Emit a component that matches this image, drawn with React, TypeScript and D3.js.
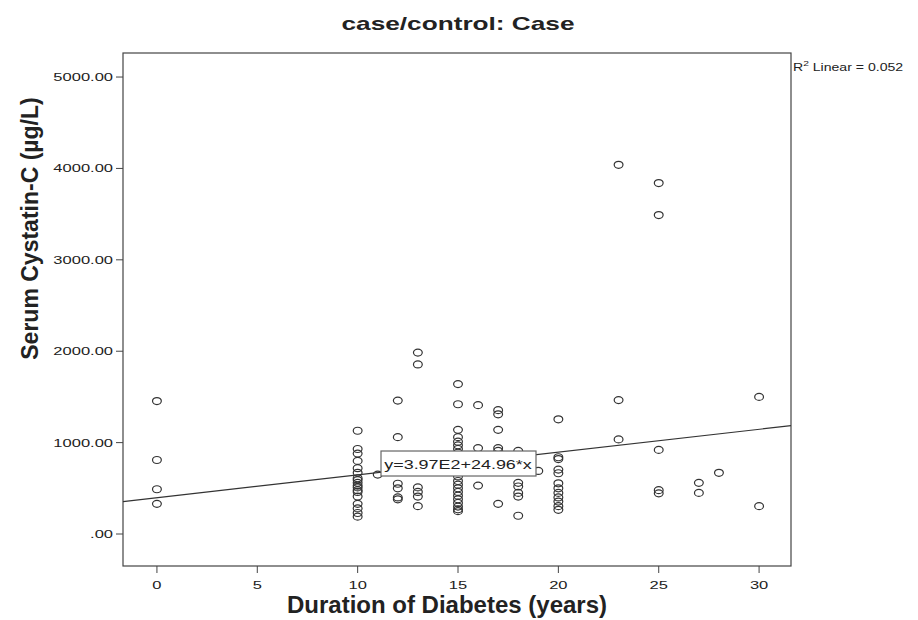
import React from "react";
import * as d3 from "d3";

// duration of diabetes (years) and the serum cystatin-C readings at each duration
const durations = [0, 10, 11, 12, 13, 15, 16, 17, 18, 19, 20, 23, 25, 27, 28, 30];
const cystatin = [
  [1455, 810, 490, 330],
  [1130, 930, 880, 800, 720, 670, 610, 590, 560, 530, 510, 480, 460, 410, 330, 280, 230, 190],
  [650],
  [1460, 1060, 550, 500, 400, 380],
  [1985, 1855, 510, 460, 410, 305],
  [1640, 1420, 1140, 1060, 1010, 970, 930, 890, 840, 780, 700, 630, 580, 540, 500, 460, 420, 380, 340, 300, 270, 250],
  [1410, 940, 530],
  [1355, 1310, 1140, 940, 910, 330],
  [910, 560, 520, 450, 410, 200],
  [690],
  [1255, 840, 820, 705, 665, 555, 500, 450, 400, 355, 305, 265],
  [4040, 1465, 1035],
  [3840, 3490, 920, 480, 445],
  [560, 450],
  [670],
  [1500, 305],
];

const xTicks = [0, 5, 10, 15, 20, 25, 30];
const yTicks = [0, 1000, 2000, 3000, 4000, 5000];

// fit line from the chart
const intercept = 397;
const slope = 24.96;
const rSquared = "0.052";

const W = 918;
const H = 620;
const frame = { left: 123, right: 791, top: 53, bottom: 566 };
const font = "'Liberation Sans', Arial, sans-serif";
const ink = "#222";

const yLabel = (d: number) => (d === 0 ? ".00" : d.toFixed(2));

// the original output renders its text stretched sideways
const WideText = ({ x, y, size, sx = 1.38, anchor = "start", weight = "normal", children }: any) => (
  <text
    transform={`translate(${x},${y}) scale(${sx},1)`}
    fontSize={size}
    fontWeight={weight}
    textAnchor={anchor}
    fontFamily={font}
    fill={ink}
  >
    {children}
  </text>
);

export default function App() {
  const x = d3.scaleLinear().domain([-1.69, 31.59]).range([frame.left, frame.right]);
  const y = d3.scaleLinear().domain([-350, 5263]).range([frame.bottom, frame.top]);

  const points = durations.flatMap((d, i) => cystatin[i].map((v) => ({ d, v })));
  const [x0, x1] = x.domain();
  const fit = d3.line<number>()
    .x((d) => x(d))
    .y((d) => y(intercept + slope * d));

  const eqX = x(15);
  const eqY = y(intercept + slope * 15);

  return (
    <svg
      width={W}
      height={H}
      style={{ position: "absolute", left: 0, top: 0, background: "#fff" }}
    >
      <rect width={W} height={H} fill="#fff" />

      {/* title */}
      <WideText x={458} y={30} size={19} anchor="middle" weight="bold">
        case/control: Case
      </WideText>

      {/* frame */}
      <rect
        x={frame.left}
        y={frame.top}
        width={frame.right - frame.left}
        height={frame.bottom - frame.top}
        fill="none"
        stroke="#444"
        strokeWidth={1.2}
      />

      {/* y axis */}
      {yTicks.map((t) => (
        <g key={t}>
          <line x1={frame.left - 7} x2={frame.left} y1={y(t)} y2={y(t)} stroke="#444" />
          <WideText x={frame.left - 10} y={y(t) + 4} size={11} sx={1.5} anchor="end">
            {yLabel(t)}
          </WideText>
        </g>
      ))}

      {/* x axis */}
      {xTicks.map((t) => (
        <g key={t}>
          <line x1={x(t)} x2={x(t)} y1={frame.bottom} y2={frame.bottom + 7} stroke="#444" />
          <WideText x={x(t)} y={frame.bottom + 23} size={11} sx={1.5} anchor="middle">
            {t}
          </WideText>
        </g>
      ))}

      <text
        x={447}
        y={613}
        textAnchor="middle"
        fontSize={24}
        fontWeight="bold"
        fontFamily={font}
        fill={ink}
      >
        Duration of Diabetes (years)
      </text>
      <text
        transform={`translate(38,${(frame.top + frame.bottom) / 2 - 81}) rotate(-90)`}
        textAnchor="middle"
        fontSize={23}
        fontWeight="bold"
        fontFamily={font}
        fill={ink}
      >
        Serum Cystatin-C (µg/L)
      </text>

      {/* points */}
      {points.map((p, i) => (
        <ellipse
          key={i}
          cx={x(p.d)}
          cy={y(p.v)}
          rx={4.4}
          ry={3.5}
          fill="none"
          stroke="#333"
          strokeWidth={1.2}
        />
      ))}

      {/* fit line */}
      <path d={fit([x0, x1]) || ""} fill="none" stroke="#333" strokeWidth={1.2} />

      {/* equation label */}
      <rect
        x={eqX - 77}
        y={eqY - 12.5}
        width={155}
        height={25}
        fill="#fff"
        stroke="#666"
        strokeWidth={1.2}
      />
      <WideText x={eqX} y={eqY + 5} size={13} anchor="middle">
        y=3.97E2+24.96*x
      </WideText>

      {/* R squared */}
      <text
        transform={`translate(${frame.right + 2},71) scale(1.28,1)`}
        fontSize={11}
        fontFamily={font}
        fill={ink}
      >
        R<tspan fontSize={8} dy={-5}>2</tspan>
        <tspan dy={5}> Linear = {rSquared}</tspan>
      </text>
    </svg>
  );
}
